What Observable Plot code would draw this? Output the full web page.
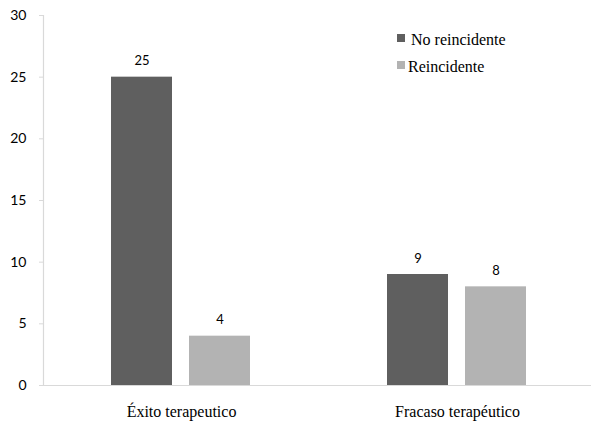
<!DOCTYPE html>
<html>
<head>
<meta charset="utf-8">
<script src="https://cdn.jsdelivr.net/npm/d3@7"></script>
<script src="https://cdn.jsdelivr.net/npm/@observablehq/plot@0.6"></script>
<style>
  body { margin: 0; background: #fff; }
  #wrap { position: relative; width: 591px; height: 423px; overflow: hidden; }
  #wrap svg { max-width: none !important; display: block; }
  .lg-text { position: absolute; font-family: "Liberation Serif", serif; font-size: 16px; line-height: 16px; color: #000; white-space: nowrap; }
  .lg-sw { position: absolute; width: 8px; height: 8px; }
</style>
</head>
<body>
<div id="wrap"></div>
<script>
const categories = ["Éxito terapeutico", "Fracaso terapéutico"];
const series = ["No reincidente", "Reincidente"];
const noReincidente = [25, 9];
const reincidente = [4, 8];
const colors = ["#5f5f5f", "#b3b3b3"];
const yTicks = [0, 5, 10, 15, 20, 25, 30];

const data = [];
categories.forEach((c, i) => {
  data.push({cat: c, serie: series[0], value: noReincidente[i]});
  data.push({cat: c, serie: series[1], value: reincidente[i]});
});

const chart = Plot.plot({
  width: 595,
  height: 423,
  marginLeft: 42,
  marginRight: 0,
  marginTop: 15,
  marginBottom: 38,
  style: {background: "#fff", maxWidth: "none"},
  fx: {domain: categories, padding: 0, label: null, axis: null},
  x: {domain: series, paddingInner: 0.215, paddingOuter: 0.86, axis: null},
  y: {domain: [0, 30], ticks: yTicks, label: null, axis: null},
  color: {domain: series, range: colors},
  marks: [
    Plot.barY(data, {fx: "cat", x: "serie", y: "value", fill: "serie"}),
    Plot.ruleY([0], {stroke: "#d9d9d9", strokeWidth: 1.2}),
    Plot.frame({anchor: "left", stroke: "#d9d9d9", strokeWidth: 1.2, facetAnchor: "left"}),
    Plot.axisY(yTicks, {anchor: "left", tickSize: 4, tickPadding: 13, stroke: "#d9d9d9", fill: "#000", fontSize: 14, fontFamily: "Lato, 'Open Sans', sans-serif", label: null}),
    Plot.axisFx({anchor: "bottom", tickSize: 0, tickPadding: 20, fontSize: 16, fontFamily: "'Liberation Serif', serif", fill: "#000", label: null}),
    Plot.text(data, {fx: "cat", x: "serie", y: "value", text: d => String(d.value), dy: -16, fontSize: 13, fontFamily: "Lato, 'Open Sans', sans-serif", fill: "#000"})
  ]
});

const wrap = document.getElementById("wrap");
wrap.appendChild(chart);
const legendRows = [
  {sw: [397, 34], text: [411, 31.6]},
  {sw: [397, 61], text: [408, 58.6]}
];
series.forEach((s, i) => {
  const sw = document.createElement("div");
  sw.className = "lg-sw";
  sw.style.left = legendRows[i].sw[0] + "px";
  sw.style.top = legendRows[i].sw[1] + "px";
  sw.style.background = colors[i];
  wrap.appendChild(sw);
  const t = document.createElement("div");
  t.className = "lg-text";
  t.style.left = legendRows[i].text[0] + "px";
  t.style.top = legendRows[i].text[1] + "px";
  t.textContent = s;
  wrap.appendChild(t);
});
</script>
</body>
</html>
